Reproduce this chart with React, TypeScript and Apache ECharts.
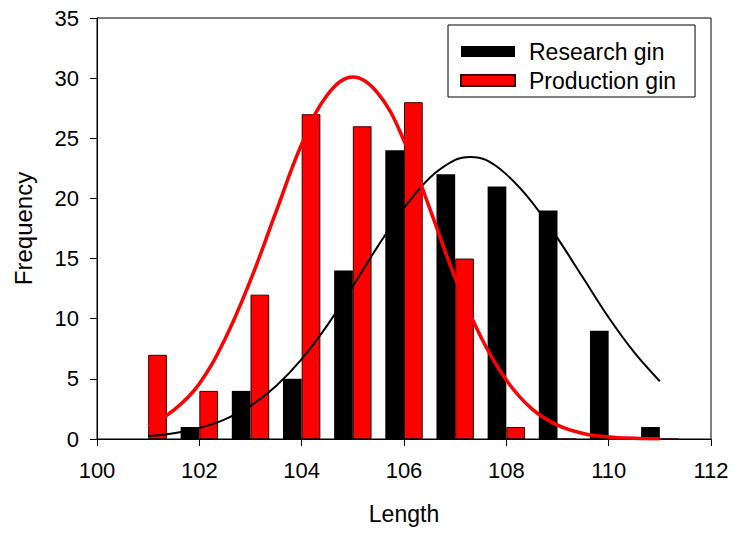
import React, { useEffect, useRef } from "react";
import * as echarts from "echarts";

const lengths = [101, 102, 103, 104, 105, 106, 107, 108, 109, 110, 111];
const researchCounts = [0, 1, 4, 5, 14, 24, 22, 21, 19, 9, 1];
const productionCounts = [7, 4, 12, 27, 26, 28, 15, 1, 0, 0, 0];

const researchCurveX = [101, 101.5, 102, 102.5, 103, 103.5, 104, 104.5, 105, 105.5, 106, 106.5, 107, 107.3, 107.6, 108, 108.5, 109, 109.5, 110, 110.5, 111];
const researchCurve = [0.24, 0.48, 0.91, 1.63, 2.76, 4.41, 6.64, 9.45, 12.7, 16.1, 19.2, 21.7, 23.2, 23.45, 23.2, 22.0, 19.7, 16.7, 13.4, 10.1, 7.2, 4.8];
const productionCurveX = [101, 101.5, 102, 102.5, 103, 103.5, 104, 104.5, 105, 105.5, 106, 106.5, 107, 107.5, 108, 108.5, 109, 109.5, 110, 110.5, 111];
const productionCurve = [1.1, 2.4, 4.6, 8.3, 13.2, 18.9, 24.5, 28.6, 30.1, 28.7, 24.8, 19.2, 13.4, 8.5, 4.9, 2.5, 1.15, 0.46, 0.17, 0.06, 0.02];

const xTicks = { min: 100, max: 112, interval: 2 };
const yTicks = { min: 0, max: 35, interval: 5 };

const FONT = 'Arial, "Liberation Sans", sans-serif';

export default function App() {
  const ref = useRef<HTMLDivElement>(null);
  useEffect(() => {
    if (!ref.current) return;
    const chart = echarts.init(ref.current, undefined, { renderer: "svg" });
    chart.setOption({
      animation: false,
      backgroundColor: "#fff",
      textStyle: { fontFamily: FONT, color: "#000" },
      grid: {
        left: 97,
        right: 25,
        top: 18,
        bottom: 95,
        show: true,
        borderColor: "#000",
        borderWidth: 1,
        backgroundColor: "transparent",
      },
      legend: {
        data: ["Research gin", "Production gin"],
        orient: "vertical",
        left: 448,
        top: 25,
        padding: [15, 19, 5, 12],
        itemGap: 6,
        itemWidth: 54,
        itemHeight: 11,
        icon: "rect",
        borderColor: "#000",
        borderWidth: 1,
        backgroundColor: "#fff",
        textStyle: { fontSize: 23, fontFamily: FONT, color: "#000", padding: [0, 0, 0, 9] },
      },
      xAxis: {
        type: "value",
        min: xTicks.min,
        max: xTicks.max,
        interval: xTicks.interval,
        name: "Length",
        nameLocation: "middle",
        nameGap: 63,
        nameTextStyle: { fontSize: 23, fontFamily: FONT, color: "#000" },
        axisLine: { show: true, lineStyle: { color: "#000", width: 1 } },
        axisTick: { show: true, length: 7, lineStyle: { color: "#000" } },
        axisLabel: { fontSize: 22, margin: 20, color: "#000", fontFamily: FONT },
        splitLine: { show: false },
      },
      yAxis: {
        type: "value",
        min: yTicks.min,
        max: yTicks.max,
        interval: yTicks.interval,
        name: "Frequency",
        nameLocation: "middle",
        nameGap: 62,
        nameTextStyle: { fontSize: 24, fontFamily: FONT, color: "#000" },
        axisLine: { show: true, lineStyle: { color: "#000", width: 1 } },
        axisTick: { show: true, length: 7, lineStyle: { color: "#000" } },
        axisLabel: { fontSize: 22, margin: 18, color: "#000", fontFamily: FONT },
        splitLine: { show: false },
      },
      series: [
        {
          name: "Research gin",
          type: "bar",
          data: lengths.map((x, i) => [x, researchCounts[i]]),
          barWidth: 18.7,
          barGap: "0%",
          itemStyle: { color: "#000000" },
        },
        {
          name: "Production gin",
          type: "bar",
          data: lengths.map((x, i) => [x, productionCounts[i]]),
          barWidth: 18.7,
          barGap: "0%",
          itemStyle: { color: "#ff0000", borderColor: "#3a0000", borderWidth: 1 },
        },
        {
          name: "Research fit",
          type: "line",
          data: researchCurveX.map((x, i) => [x, researchCurve[i]]),
          smooth: 0.35,
          showSymbol: false,
          lineStyle: { color: "#000", width: 2 },
          z: 5,
        },
        {
          name: "Production fit",
          type: "line",
          data: productionCurveX.map((x, i) => [x, productionCurve[i]]),
          smooth: 0.4,
          showSymbol: false,
          lineStyle: { color: "#ff0000", width: 3.5 },
          z: 5,
        },
      ],
    });
    return () => chart.dispose();
  }, []);
  return (
    <div
      ref={ref}
      style={{ position: "absolute", left: 0, top: 0, width: 736, height: 534, background: "#fff" }}
    />
  );
}
